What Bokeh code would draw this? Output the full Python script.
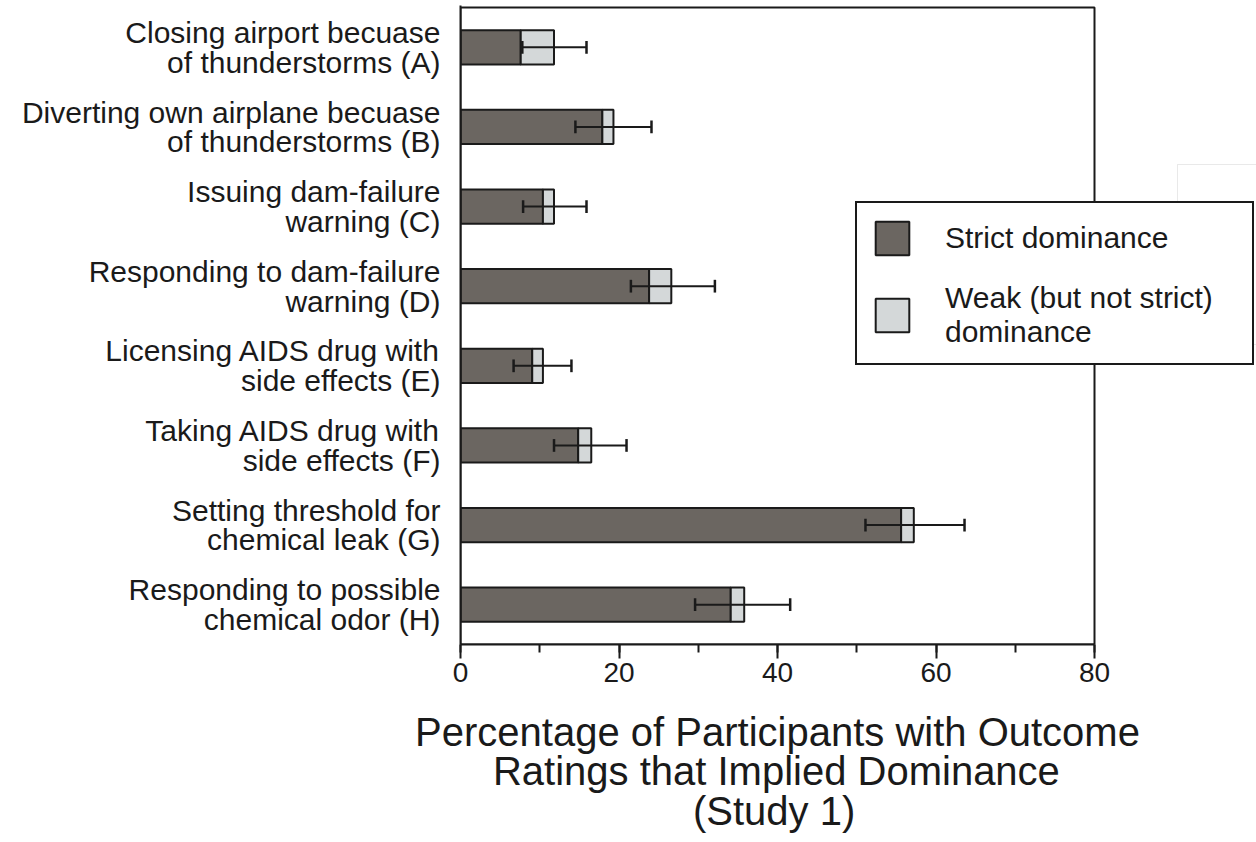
from bokeh.plotting import figure
from bokeh.models import (Range1d, FixedTicker, SingleIntervalTicker, Legend,
                          LegendItem, ColumnDataSource, BoxAnnotation, Title)
from bokeh.embed import file_html
from bokeh.resources import INLINE

# ---------------- data ----------------
labels = [
    "Closing airport becuase\nof thunderstorms (A)",
    "Diverting own airplane becuase\nof thunderstorms (B)",
    "Issuing dam-failure\nwarning (C)",
    "Responding to dam-failure\nwarning (D)",
    "Licensing AIDS drug with\nside effects (E)",
    "Taking AIDS drug with\nside effects (F)",
    "Setting threshold for\nchemical leak (G)",
    "Responding to possible\nchemical odor (H)",
]
strict = [7.6, 17.9, 10.4, 23.8, 9.05, 14.85, 55.6, 34.1]
weak = [4.2, 1.4, 1.4, 2.8, 1.35, 1.65, 1.6, 1.7]
err_low = [7.8, 14.5, 7.9, 21.5, 6.7, 11.8, 51.1, 29.6]
err_high = [15.9, 24.1, 15.9, 32.1, 14.0, 20.95, 63.6, 41.6]
x_min, x_max = 0, 80
x_tick_interval = 20
series_names = ["Strict dominance", "Weak (but not strict)\ndominance"]
x_title_lines = ["Percentage of Participants with Outcome",
                 "Ratings that Implied Dominance",
                 "(Study 1)"]

# ---------------- layout ----------------
W, H = 1256, 842
LEFT, TOP, BOTTOM = 460, 5, 644          # frame edges on the page
BOX_W = 634                               # visible plot box width (0..80)
BOX_TOP = 7                               # visible plot box top
frame_w = W - LEFT
px_per_x = BOX_W / (x_max - x_min)
x_end = x_min + frame_w / px_per_x
n = len(labels)
px_per_y = (BOTTOM - BOX_TOP) / n
y_end = -(BOX_TOP - TOP) / px_per_y

# Liberation Sans (Arial metrics) advance widths, per 1000 em
ADV = {' ': 278, '(': 333, ')': 333, '1': 556, 'D': 722, 'I': 278, 'O': 778,
       'P': 667, 'R': 722, 'S': 667, 'a': 556, 'b': 556, 'c': 500, 'd': 556,
       'e': 556, 'f': 278, 'g': 556, 'h': 556, 'i': 222, 'l': 222, 'm': 833,
       'n': 556, 'o': 556, 'p': 556, 'r': 333, 's': 500, 't': 278, 'u': 556,
       'w': 722, 'y': 500}
TITLE_PX = 40


def text_w(s, px):
    return sum(ADV.get(ch, 556) for ch in s) * px / 1000


# title: left-aligned block, shorter lines centred with leading NBSPs,
# whole block centred under the visible plot box (0..80)
widths = [text_w(s, TITLE_PX) for s in x_title_lines]
wmax = max(widths)
nbsp_w = 0.278 * TITLE_PX
title_text = "\n".join("\u00a0" * round((wmax - w) / 2 / nbsp_w) + s
                       for s, w in zip(x_title_lines, widths))
title_offset = BOX_W / 2 - wmax / 2

pos = [i + 0.5 for i in range(n)]
total = [s + w for s, w in zip(strict, weak)]
src = ColumnDataSource(dict(y=pos, strict=strict, total=total,
                            lo=err_low, hi=err_high))

FONT = "Liberation Sans"
TXT = "#1a1a1a"
INK = "#1a1a1a"

p = figure(width=W, height=H,
           x_range=Range1d(x_min, x_end), y_range=Range1d(n, y_end),
           output_backend="svg", toolbar_location=None,
           min_border_left=LEFT, min_border_right=0,
           min_border_top=TOP, min_border_bottom=H - BOTTOM)
p.grid.visible = False
p.outline_line_color = None
p.background_fill_color = "white"
p.border_fill_color = "white"

BAR_H = 0.43
r_strict = p.hbar(y="y", left=0, right="strict", height=BAR_H, source=src,
                  fill_color="#6b6661", line_color=INK, line_width=2)
r_weak = p.hbar(y="y", left="strict", right="total", height=BAR_H, source=src,
                fill_color="#d4d8d9", line_color=INK, line_width=2)

# error bars
CAP = 0.08
p.segment(x0="lo", x1="hi", y0="y", y1="y", source=src,
          line_color=INK, line_width=2)
src_caps = ColumnDataSource(dict(
    x=err_low + err_high,
    y0=[y - CAP for y in pos] * 2,
    y1=[y + CAP for y in pos] * 2))
p.segment(x0="x", x1="x", y0="y0", y1="y1", source=src_caps,
          line_color=INK, line_width=2.5)

# visible plot box (0..80, full category height)
p.add_layout(BoxAnnotation(left=x_min, right=x_max, top=0, bottom=n,
                           fill_alpha=0, line_color=INK, line_width=2,
                           line_alpha=1))

# x axis
xa = p.xaxis[0]
xa.bounds = (x_min, x_max)
xa.ticker = SingleIntervalTicker(interval=x_tick_interval, num_minor_ticks=2)
xa.axis_line_color = INK
xa.axis_line_width = 2
xa.major_tick_line_color = INK
xa.major_tick_line_width = 2
xa.major_tick_in = 0
xa.major_tick_out = 14
xa.minor_tick_line_color = INK
xa.minor_tick_line_width = 2
xa.minor_tick_in = 0
xa.minor_tick_out = 8
xa.major_label_text_font = FONT
xa.major_label_text_font_size = "28px"
xa.major_label_text_color = TXT
xa.major_label_standoff = 4
# invisible spacer label: gap between tick labels and the title
xa.axis_label = "\u00a0"
xa.axis_label_text_font_size = "1px"
xa.axis_label_standoff = 21

p.add_layout(Title(text=title_text, align="left", vertical_align="top",
                   offset=title_offset, standoff=0,
                   text_font=FONT, text_font_size=f"{TITLE_PX}px",
                   text_font_style="normal", text_color=TXT,
                   text_line_height=0.9), "below")

# y axis
ya = p.yaxis[0]
ya.ticker = FixedTicker(ticks=pos)
ya.major_label_overrides = {y: lab for y, lab in zip(pos, labels)}
ya.axis_line_color = INK
ya.axis_line_width = 2
ya.major_tick_line_color = None
ya.minor_tick_line_color = None
ya.major_tick_out = 0
ya.major_tick_in = 0
ya.major_label_standoff = 20
ya.major_label_text_font = FONT
ya.major_label_text_font_size = "30px"
ya.major_label_text_color = TXT
ya.major_label_text_line_height = 0.9

# faint scan artifact (thin grey frame at top right)
p.add_layout(BoxAnnotation(left=717, right=900, top=480, bottom=300,
                           left_units="screen", right_units="screen",
                           top_units="screen", bottom_units="screen",
                           fill_alpha=0, line_color="#b5b5b5", line_width=1))

legend = Legend(items=[LegendItem(label=series_names[0], renderers=[r_strict]),
                       LegendItem(label=series_names[1], renderers=[r_weak])],
                location=(395, 279), orientation="vertical")
legend.border_line_color = INK
legend.border_line_width = 2
legend.border_line_alpha = 1
legend.background_fill_color = "white"
legend.background_fill_alpha = 1
legend.label_text_font = FONT
legend.label_text_font_size = "30px"
legend.label_text_color = TXT
legend.label_text_line_height = 0.985
legend.glyph_width = 42
legend.glyph_height = 42
legend.label_standoff = 32
legend.label_width = 293
legend.padding = 14
legend.spacing = 22
legend.margin = 0
p.add_layout(legend, "center")

open("out.html", "w").write(file_html(p, INLINE))
